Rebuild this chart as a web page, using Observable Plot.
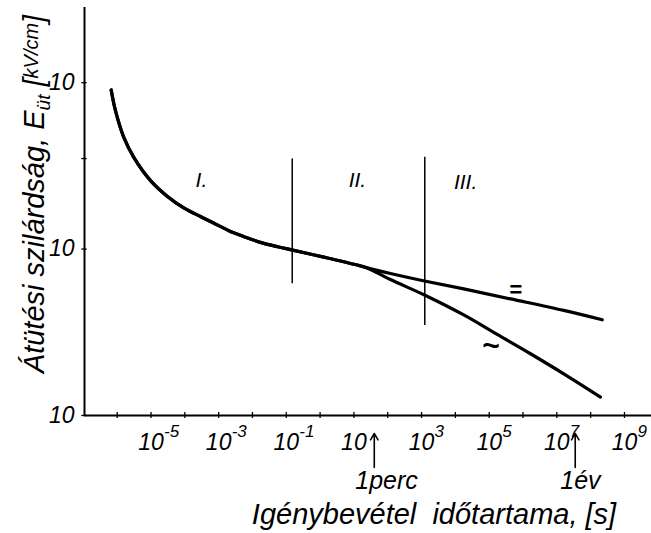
<!DOCTYPE html>
<html>
<head>
<meta charset="utf-8">
<script src="https://cdn.jsdelivr.net/npm/d3@7"></script>
<script src="https://cdn.jsdelivr.net/npm/@observablehq/plot@0.6"></script>
<style>
  html, body { margin: 0; padding: 0; background: #fff; }
</style>
</head>
<body>
<div id="chart"></div>
<script>
// ---- data ----
// common part of the curve (time in s, breakdown strength)
const sharedTime = [6.65e-7, 8.9e-7, 1.57e-6, 3.1e-6, 9.7e-6, 3.0e-5, 9.3e-5, 2.9e-4, 6.4e-4, 2.0e-3, 6.2e-3, 0.0194, 0.060, 0.133, 1.29, 12.5, 24.7];
const sharedE    = [904, 679, 469, 356, 258, 208, 177, 157, 145, 129, 118, 109, 103, 99.3, 89.5, 80.2, 77.1];
// DC branch "="
const dcTime = [120, 1220, 1.77e4, 4.3e5, 1.6e7, 2.2e8];
const dcE    = [71.3, 64.3, 57.7, 50.2, 42.8, 37.6];
// AC branch "~"
const acTime = [120, 1220, 1.77e4, 1.72e5, 1.66e6, 1.6e7, 1.95e8];
const acE    = [65.6, 53.0, 40.2, 30.7, 23.5, 17.8, 12.9];

// region boundaries and labels
const boundaryTime   = [0.15, 1245];
const boundaryTop    = [348, 356];
const boundaryBottom = [61.8, 34.8];
const regionNames = ["I.", "II.", "III."];
const regionTime  = [3.1e-4, 12.7, 2.0e4];
const regionE     = [258, 258, 252];
// branch symbols
const dcSymbol = "=", dcSymbolTime = 6.0e5, dcSymbolE = 57;
const acSymbol = "~", acSymbolTime = 1.1e5, acSymbolE = 26;

// axes
const xTickValues = [1e-6,1e-5,1e-4,1e-3,1e-2,1e-1,1,1e1,1e2,1e3,1e4,1e5,1e6,1e7,1e8,1e9];
const xLabelValues = [1e-5, 1e-3, 1e-1, 1e1, 1e3, 1e5, 1e7, 1e9];
const xLabelExps   = ["-5", "-3", "-1", "", "3", "5", "7", "9"];
const yTickValues  = [10, 100, 350, 1000];
const yLabelValues = [10, 100, 1000];
const yLabelTexts  = ["10", "10", "10"];

// time marks under the axis
const noteNames     = ["1perc", "1év"];
const noteTime      = [40, 3.5e7];
const noteLabelTime = [92, 5.0e7];

const xTitle = "Igénybevétel  időtartama, [s]";

// ---- build tables ----
const dcSeries = sharedTime.map((t, i) => ({t, E: sharedE[i]})).concat(dcTime.map((t, i) => ({t, E: dcE[i]})));
const acSeries = sharedTime.map((t, i) => ({t, E: sharedE[i]})).concat(acTime.map((t, i) => ({t, E: acE[i]})));
const boundaries = boundaryTime.map((t, i) => ({t, top: boundaryTop[i], bottom: boundaryBottom[i]}));
const regions = regionNames.map((name, i) => ({name, t: regionTime[i], E: regionE[i]}));
const xLabels = xLabelValues.map((v, i) => ({v, exp: xLabelExps[i]}));
const yLabels = yLabelValues.map((v, i) => ({v, text: yLabelTexts[i]}));
const notes = noteNames.map((name, i) => ({name, t: noteTime[i], lt: noteLabelTime[i]}));

const FONT = "'Liberation Sans', Arial, sans-serif";
const xMin = 1.08e-7, xMax = 6.3e9, yMin = 10, yMax = 2830;

const svg = Plot.plot({
  width: 651,
  height: 533,
  marginLeft: 84,
  marginRight: 0,
  marginTop: 7,
  marginBottom: 118,
  x: {type: "log", domain: [xMin, xMax], axis: null},
  y: {type: "log", domain: [yMin, yMax], axis: null},
  style: {fontFamily: FONT, fontStyle: "italic", background: "white", color: "black", overflow: "visible"},
  marks: [
    // axis lines
    Plot.ruleY([yMin], {stroke: "black", strokeWidth: 2}),
    Plot.ruleX([xMin], {stroke: "black", strokeWidth: 2}),
    // x ticks crossing the axis
    Plot.ruleX(xTickValues, {x: d => d, y1: () => 10 ** 0.982, y2: () => 10 ** 1.018, stroke: "black", strokeWidth: 1.3}),
    // y ticks crossing the axis
    Plot.ruleY(yTickValues, {y: d => d, x1: () => 10 ** (-6.967 - 0.08), x2: () => 10 ** (-6.967 + 0.08), stroke: "black", strokeWidth: 1.3}),
    // x tick labels: base and exponent
    Plot.text(xLabels, {x: "v", y: () => yMin, text: () => "10", dy: 34, lineAnchor: "bottom", textAnchor: "middle", fontSize: 23, fill: "black"}),
    Plot.text(xLabels, {x: "v", y: () => yMin, text: "exp", dx: 13, dy: 21, lineAnchor: "bottom", textAnchor: "start", fontSize: 17, fill: "black"}),
    // y tick labels
    Plot.text(yLabels, {x: () => xMin, y: "v", text: "text", dx: -10, lineAnchor: "middle", textAnchor: "end", fontSize: 23, fill: "black"}),
    // region boundaries
    Plot.ruleX(boundaries, {x: "t", y1: "bottom", y2: "top", stroke: "black", strokeWidth: 1.5}),
    // curves
    Plot.line(acSeries, {x: "t", y: "E", curve: "catmull-rom", stroke: "black", strokeWidth: 3.2}),
    Plot.line(dcSeries, {x: "t", y: "E", curve: "catmull-rom", stroke: "black", strokeWidth: 3.2}),
    // region labels
    Plot.text(regions, {x: "t", y: "E", text: "name", fontSize: 21, fill: "black", lineAnchor: "middle"}),
    // branch symbols
    Plot.text([dcSymbol], {x: () => dcSymbolTime, y: () => dcSymbolE, text: d => d, fontSize: 22, fill: "black", lineAnchor: "middle", fontWeight: "bold"}),
    Plot.text([acSymbol], {x: () => acSymbolTime, y: () => acSymbolE, text: d => d, fontSize: 30, fill: "black", lineAnchor: "middle", fontWeight: "bold"}),
    // time marks under the axis
    Plot.arrow(notes, {x1: "t", x2: "t", y1: () => 4.87, y2: () => 7.8, stroke: "black", strokeWidth: 1.6, headLength: 7}),
    Plot.text(notes, {x: "lt", y: () => 3.64, text: "name", lineAnchor: "bottom", fontSize: 25, fill: "black"})
  ]
});

const s = d3.select(svg);
// x axis title
s.append("text")
  .attr("x", 434).attr("y", 524)
  .attr("text-anchor", "middle")
  .attr("font-size", 29)
  .attr("fill", "black")
  .style("white-space", "pre")
  .text(xTitle);
// y axis title (rotated)
const yt = s.append("text")
  .attr("transform", "translate(44,194) rotate(-90)")
  .attr("text-anchor", "middle")
  .attr("font-size", 29)
  .attr("fill", "black");
yt.append("tspan").text("Átütési szilárdság, E");
yt.append("tspan").attr("font-size", 19).attr("dy", 6).text("üt");
yt.append("tspan").attr("dy", -6).text(" [");
yt.append("tspan").attr("font-size", 20).attr("dy", -6).text("kV/cm");
yt.append("tspan").attr("dy", 6).text("]");

document.getElementById("chart").appendChild(svg);
</script>
</body>
</html>
